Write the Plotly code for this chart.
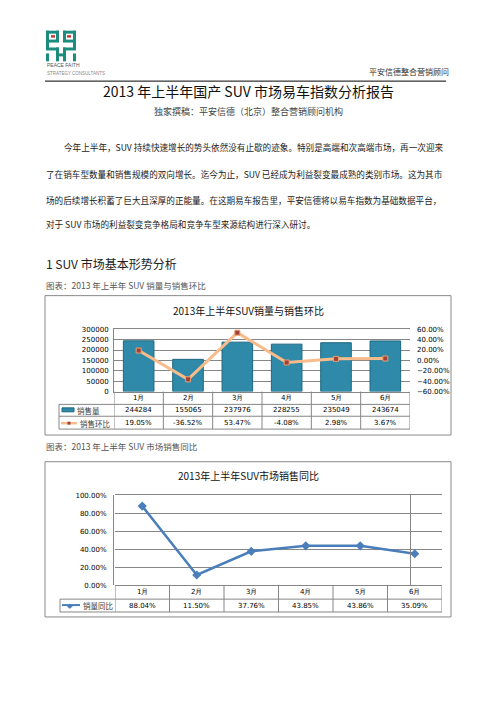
import plotly.graph_objects as go

W, H = 496, 702

months = ['1月', '2月', '3月', '4月', '5月', '6月']
sales = [244284, 155065, 237976, 228255, 235049, 243674]
sales_mom = [0.1905, -0.3652, 0.5347, -0.0408, 0.0298, 0.0367]
sales_yoy = [0.8804, 0.1150, 0.3776, 0.4385, 0.4386, 0.3509]

doc_title = '2013 年上半年国产 SUV 市场易车指数分析报告'
doc_sub = '独家撰稿：平安信德（北京）整合营销顾问机构'
header_right = '平安信德整合营销顾问'
para_lines = [
    '今年上半年，SUV 持续快速增长的势头依然没有止歇的迹象。特别是高端和次高端市场，再一次迎来',
    '了在销车型数量和销售规模的双向增长。迄今为止，SUV 已经成为利益裂变最成熟的类别市场。这为其市',
    '场的后续增长积蓄了巨大且深厚的正能量。在这期易车报告里，平安信德将以易车指数为基础数据平台，',
    '对于 SUV 市场的利益裂变竞争格局和竞争车型来源结构进行深入研讨。',
]
section = '1 SUV 市场基本形势分析'
cap1 = '图表：2013 年上半年 SUV 销量与销售环比'
cap2 = '图表：2013 年上半年 SUV 市场销售同比'
title1 = '2013年上半年SUV销量与销售环比'
title2 = '2013年上半年SUV市场销售同比'

CJK = 'Noto Sans CJK SC'
NUM = 'DejaVu Sans'
GRID = '#868686'


def X(px):
    return px / W


def Y(py):
    return 1 - py / H


shapes = []
ann = []


def text(s, px, py, size, color='#1a1a1a', xa='left', font=CJK, xref='paper'):
    ann.append(dict(text=s, x=px if xref != 'paper' else X(px), y=Y(py), xref=xref, yref='paper',
                    xanchor=xa, yanchor='middle', showarrow=False, borderpad=0,
                    font=dict(family=font, size=size, color=color)))


def line(x0, y0, x1, y1, color=GRID, width=1, xref='paper'):
    shapes.append(dict(type='line', xref=xref, yref='paper',
                       x0=x0 if xref != 'paper' else X(x0), x1=x1 if xref != 'paper' else X(x1),
                       y0=Y(y0), y1=Y(y1), line=dict(color=color, width=width)))


def rect(x0, y0, x1, y1, fill, lc=None):
    shapes.append(dict(type='rect', xref='paper', yref='paper', x0=X(x0), x1=X(x1),
                       y0=Y(y0), y1=Y(y1), fillcolor=fill,
                       line=dict(color=lc or fill, width=0 if lc is None else 1)))


# logo (rough)
teal = '#1b8c7e'
red = '#c8363a'
for r in [(46, 27, 59, 30), (46, 27, 49, 46), (56, 27, 59, 38), (49, 36, 59, 39),
          (63, 27, 76, 30), (63, 27, 66, 38), (73, 27, 76, 46), (63, 36, 73, 39),
          (46, 44, 59, 47), (63, 44, 76, 47), (56, 44, 59, 58), (63, 44, 66, 58),
          (46, 50, 49, 58), (73, 50, 76, 58), (59, 50, 63, 53)]:
    rect(*r, teal)
rect(51, 31.5, 55, 34, red)
rect(67, 31.5, 71, 34, red)
text('PEACE FAITH', 46, 62, 5, '#555555', font='Liberation Sans')
text('STRATEGY CONSULTANTS', 46, 70, 4.5, '#888888', font='Liberation Sans')

# header
text(header_right, 450, 68, 8, '#333333', xa='right')
line(45, 78, 446, 78, '#000000', 1)
text(doc_title, 248, 88, 14, '#111111', xa='center')
text(doc_sub, 248, 109, 9, '#444444', xa='center')

for i, s in enumerate(para_lines):
    text(s, 63 if i == 0 else 45, [145, 172, 198, 223][i], 8.6, '#1a1a1a')

text(section, 45, 262, 12, '#222222')
text(cap1, 45, 284, 8.5, '#555555')
text(cap2, 45, 447, 8.5, '#555555')

# chart frames
rect(45, 295, 451, 436, 'rgba(0,0,0,0)', '#8a8a8a')
rect(45, 463, 451, 620, 'rgba(0,0,0,0)', '#8a8a8a')
text(title1, 248, 310, 10, '#111111', xa='center')
text(title2, 248, 477, 10, '#111111', xa='center')

# chart 1 data table
for k in range(7):
    line(k - 0.5, 392, k - 0.5, 430, xref='x')
for py in [405, 417, 430]:
    line(59, py, 410, py)
line(59, 405, 59, 430)
for m, s, p in zip(months, sales, sales_mom):
    text(m, m, 398.5, 7, '#000000', xa='center', font=NUM, xref='x')
    text(str(s), m, 411, 7, '#000000', xa='center', font=NUM, xref='x')
    text(f'{p * 100:.2f}%', m, 423.5, 7, '#000000', xa='center', font=NUM, xref='x')
rect(62, 408.5, 74, 412.5, '#2e8aa8', '#1e6680')
text('销售量', 76, 411, 7.5, '#404040')
line(61, 424, 77, 424, '#f8bc8c', 2.5)
rect(67.5, 422.5, 70.5, 425.5, '#a0403a')
text('销售环比', 79, 424, 7.5, '#404040')

# chart 2 data table
for k in range(7):
    line(k - 0.5, 588, k - 0.5, 615, xref='x3')
for py in [602, 615]:
    line(60, py, 442, py)
line(60, 602, 60, 615)
for m, p in zip(months, sales_yoy):
    text(m, m, 595, 7, '#000000', xa='center', font=NUM, xref='x3')
    text(f'{p * 100:.2f}%', m, 608.5, 7, '#000000', xa='center', font=NUM, xref='x3')
line(62, 608, 80, 608, '#4a7ebb', 2)
ann.append(dict(text='◆', x=X(70), y=Y(608), xref='paper', yref='paper', showarrow=False,
                font=dict(size=7, color='#4a7ebb'), xanchor='center', yanchor='middle'))
text('销量同比', 82, 608, 7.5, '#404040')

fig = go.Figure()
fig.add_trace(go.Bar(x=months, y=sales, width=0.62, xaxis='x', yaxis='y',
                     marker=dict(color='#2e8aa8', line=dict(color='#1e6680', width=1))))
fig.add_trace(go.Scatter(x=months, y=sales_mom, xaxis='x', yaxis='y2', mode='lines+markers',
                         line=dict(color='#f8bc8c', width=3),
                         marker=dict(symbol='square', size=5, color='#a0403a',
                                     line=dict(color='#e8a070', width=1))))
fig.add_trace(go.Scatter(x=months, y=sales_yoy, xaxis='x3', yaxis='y3', mode='lines+markers',
                         line=dict(color='#4a7ebb', width=2.5),
                         marker=dict(symbol='diamond', size=7, color='#4a7ebb')))

tickf = dict(family=NUM, size=7, color='#000000')
xcommon = dict(range=[-0.5, 5.5], showticklabels=False, showgrid=False, zeroline=False,
               showline=True, linecolor=GRID, mirror=True, fixedrange=True)
fig.update_layout(
    width=W, height=H, autosize=False, margin=dict(l=0, r=0, t=0, b=0),
    paper_bgcolor='white', plot_bgcolor='white', showlegend=False,
    xaxis=dict(domain=[X(114), X(410)], anchor='y', **xcommon),
    yaxis=dict(domain=[Y(392), Y(329)], range=[0, 300000], dtick=50000, tickformat='d',
               showgrid=True, gridcolor=GRID, zeroline=False, showline=True, linecolor=GRID,
               tickfont=tickf, ticklabelstandoff=3),
    yaxis2=dict(overlaying='y', side='right', anchor='x', range=[-0.6, 0.6], dtick=0.2,
                tickformat='.2%', showgrid=False, zeroline=False, tickfont=tickf,
                ticklabelstandoff=6),
    xaxis3=dict(domain=[X(115), X(442)], anchor='y3', **xcommon),
    yaxis3=dict(domain=[Y(588), Y(497)], range=[0, 1], dtick=0.2, tickformat='.2%',
                showgrid=True, gridcolor=GRID, zeroline=False, showline=True, linecolor=GRID,
                mirror=True, tickfont=tickf, ticklabelstandoff=5),
    shapes=shapes, annotations=ann,
)

fig.write_html('out.html', config={'displayModeBar': False},
               post_script="document.body.style.margin='0';")
